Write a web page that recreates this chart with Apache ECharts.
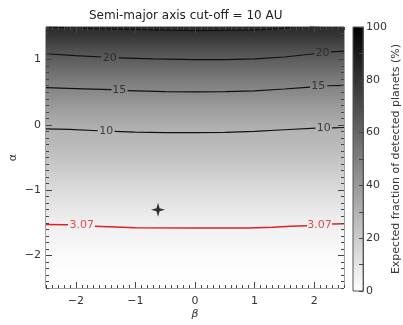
<!DOCTYPE html>
<html>
<head>
<meta charset="utf-8">
<script src="https://cdn.jsdelivr.net/npm/echarts@6/dist/echarts.min.js"></script>
<style>
html, body { margin: 0; padding: 0; background: #fff; }
#main { width: 403px; height: 325px; }
</style>
</head>
<body>
<div id="main"></div>
<script>
// expected fraction (%) read along alpha, rows centred on -2.45 ... 1.45 (step 0.1)
const alphaRows = fractionRowsAlpha();
const fractionByAlpha = [
  1.3, 1.4, 1.6, 1.8, 2.0, 2.2, 2.5, 2.7, 2.9, 3.1,
  3.5, 3.9, 4.3, 4.8, 5.3, 5.8, 6.3, 6.9, 7.4, 8.0,
  8.5, 9.0, 9.5, 9.7, 10.3, 11.0, 11.7, 12.5, 13.3, 14.2,
  15.0, 15.9, 16.9, 17.9, 19.0, 20.0, 21.2, 22.5, 23.8, 24.9
];
function fractionRowsAlpha() {
  const a = [];
  for (let i = 0; i < 40; i++) a.push(Math.round((-2.45 + 0.1 * i) * 100) / 100);
  return a;
}

// contour lines [beta, alpha], null = gap for the label
const contour10 = [[-2.5, -0.06], [-2.1, -0.07], [-1.63, -0.09], null,
  [-1.35, -0.10], [-1.0, -0.11], [-0.5, -0.12], [0, -0.12], [0.5, -0.115], [1.0, -0.10], [1.5, -0.075], [2.02, -0.05], null,
  [2.3, -0.045], [2.5, -0.04]];
const contour15 = [[-2.5, 0.57], [-2.0, 0.555], [-1.4, 0.54], null,
  [-1.13, 0.525], [-0.5, 0.51], [0, 0.505], [0.5, 0.51], [1.0, 0.52], [1.5, 0.55], [1.93, 0.58], null,
  [2.22, 0.6], [2.5, 0.605]];
const contour20 = [[-2.5, 1.09], [-2.0, 1.06], [-1.57, 1.04], null,
  [-1.28, 1.026], [-0.7, 1.01], [0, 1.0], [0.5, 1.0], [1.0, 1.01], [1.5, 1.04], [2.0, 1.09], null,
  [2.28, 1.12], [2.5, 1.13]];
const contour25 = [[-2.5, 1.497], [-2.18, 1.49], null,
  [-1.9, 1.48], [-1.0, 1.465], [0, 1.445], [1.0, 1.455], [1.4, 1.475], [1.63, 1.49], null,
  [1.93, 1.51], [2.5, 1.55]];
const contourCut = [[-2.5, -1.525], [-2.13, -1.53], null,
  [-1.68, -1.555], [-1.0, -1.575], [0, -1.58], [0.9, -1.58], [1.3, -1.57], [1.6, -1.555], [1.88, -1.545], null,
  [2.3, -1.52], [2.5, -1.515]];

const blackLabels = [[-1.49, -0.095, '10'], [2.16, -0.048, '10'],
  [-1.27, 0.53, '15'], [2.07, 0.59, '15'],
  [-1.43, 1.03, '20'], [2.14, 1.10, '20']];
const redLabels = [[-1.9, -1.54, '3.07'], [2.09, -1.53, '3.07']];

const starPoint = [[-0.62, -1.30]];

const xMajor = [-2, -1, 0, 1, 2];
const yMajor = [-2, -1, 0, 1];

const fontName = 'DejaVu Sans';
const minus = v => String(v).replace('-', '\u2212');

// grey scale of the image: white at 1.5 %, black at 30 %
const shadeMin = 1.5, shadeMax = 30;
function shade(v) {
  let t = (v - shadeMin) / (shadeMax - shadeMin);
  t = Math.max(0, Math.min(1, t));
  const g = Math.round(255 * (1 - t));
  return 'rgb(' + g + ',' + g + ',' + g + ')';
}

// split a contour into segments (one line series each)
function contourSeries(points, color, width) {
  const out = [];
  let seg = [];
  points.forEach(p => {
    if (p === null) { out.push(seg); seg = []; } else { seg.push(p); }
  });
  out.push(seg);
  return out.map(s => ({
    type: 'line', xAxisIndex: 0, yAxisIndex: 0, z: 3,
    data: s, symbol: 'none', silent: true,
    lineStyle: { color: color, width: width }
  }));
}

function valueAxis(pos, min, max, extra) {
  return Object.assign({
    type: 'value', gridIndex: 0, position: pos, min: min, max: max, z: 10,
    splitLine: { show: false },
    axisLine: { show: false, onZero: false },
    axisLabel: { show: false },
    axisTick: { show: false }
  }, extra);
}

const minorTick = { show: true, inside: true, length: 3, lineStyle: { color: '#444' } };
const labelStyle = { color: '#333', fontSize: 11, fontFamily: fontName };

const chart = echarts.init(document.getElementById('main'));
const option = {
  animation: false,
  backgroundColor: '#fff',
  title: {
    text: 'Semi-major axis cut-off = 10 AU',
    left: 84, top: 5,
    textStyle: { color: '#222', fontSize: 12, fontWeight: 'normal', fontFamily: fontName }
  },
  grid: [
    { left: 44, top: 27, width: 300, height: 264, show: true, borderColor: '#444', borderWidth: 1, backgroundColor: 'transparent' },
    { left: 353, top: 27, width: 17, height: 264, show: true, borderColor: '#555', borderWidth: 1,
      backgroundColor: new echarts.graphic.LinearGradient(0, 0, 0, 1, [
        { offset: 0, color: '#000' }, { offset: 1, color: '#fff' }
      ]) }
  ],
  xAxis: [
    valueAxis('bottom', -2.5, 2.5, { interval: 0.1, axisTick: minorTick,
      name: '\u03b2', nameLocation: 'middle', nameGap: 21,
      nameTextStyle: { color: '#333', fontSize: 11, fontStyle: 'italic', fontFamily: fontName } }),
    valueAxis('bottom', -2.5, 2.5, {
      axisTick: { show: true, inside: true, length: 6, customValues: xMajor, lineStyle: { color: '#444' } },
      axisLabel: Object.assign({ show: true, margin: 8, customValues: xMajor, formatter: minus }, labelStyle) }),
    valueAxis('top', -2.5, 2.5, { interval: 0.1, axisTick: minorTick }),
    valueAxis('top', -2.5, 2.5, {
      axisTick: { show: true, inside: true, length: 6, customValues: xMajor, lineStyle: { color: '#444' } } }),
    { type: 'value', gridIndex: 1, show: false, min: 0, max: 1 }
  ],
  yAxis: [
    valueAxis('left', -2.5, 1.5, { interval: 0.1, axisTick: minorTick,
      name: '\u03b1', nameLocation: 'middle', nameGap: 27, nameRotate: 90,
      nameTextStyle: { color: '#333', fontSize: 11, fontFamily: fontName } }),
    valueAxis('left', -2.5, 1.5, {
      axisTick: { show: true, inside: true, length: 6, customValues: yMajor, lineStyle: { color: '#444' } },
      axisLabel: Object.assign({ show: true, margin: 5, customValues: yMajor, formatter: minus }, labelStyle) }),
    valueAxis('right', -2.5, 1.5, { interval: 0.1, axisTick: minorTick }),
    valueAxis('right', -2.5, 1.5, {
      axisTick: { show: true, inside: true, length: 6, customValues: yMajor, lineStyle: { color: '#444' } } }),
    { type: 'value', gridIndex: 1, position: 'right', min: 0, max: 100, interval: 10, z: 10,
      splitLine: { show: false },
      axisLine: { show: true, onZero: false, lineStyle: { color: '#555' } },
      axisTick: { show: true, inside: true, length: 4, lineStyle: { color: '#444' } },
      axisLabel: Object.assign({ margin: 3, formatter: v => (v % 20 === 0 ? String(v) : '') }, labelStyle),
      name: 'Expected fraction of detected planets (%)', nameLocation: 'middle', nameGap: 25, nameRotate: 90,
      nameTextStyle: { color: '#333', fontSize: 11, fontFamily: fontName } }
  ],
  series: [
    // smooth grey image: one rect, shaded from the fraction read at each alpha row
    { type: 'custom', xAxisIndex: 0, yAxisIndex: 0, silent: true, z: 1,
      data: [[-2.5, -2.5]],
      renderItem: function (params, api) {
        const tl = api.coord([-2.5, 1.5]);
        const br = api.coord([2.5, -2.5]);
        const h = br[1] - tl[1];
        const stops = alphaRows.map((a, i) => ({
          offset: (api.coord([0, a])[1] - tl[1]) / h,
          color: shade(fractionByAlpha[i])
        })).reverse();
        return {
          type: 'rect',
          shape: { x: tl[0], y: tl[1], width: br[0] - tl[0], height: h },
          style: { fill: new echarts.graphic.LinearGradient(0, 0, 0, 1, stops) }
        };
      } },
    ...contourSeries(contour10, '#111', 1.2),
    ...contourSeries(contour15, '#111', 1.2),
    ...contourSeries(contour20, '#111', 1.2),
    ...contourSeries(contour25, '#111', 1.2),
    ...contourSeries(contourCut, '#e02020', 1.5),
    { type: 'scatter', xAxisIndex: 0, yAxisIndex: 0, symbolSize: 0, silent: true, z: 4,
      data: blackLabels,
      label: { show: true, position: 'inside', formatter: p => p.value[2], color: '#222', fontSize: 11, fontFamily: fontName } },
    { type: 'scatter', xAxisIndex: 0, yAxisIndex: 0, symbolSize: 0, silent: true, z: 4,
      data: redLabels,
      label: { show: true, position: 'inside', formatter: p => p.value[2], color: '#e02020', fontSize: 11, fontFamily: fontName } },
    { type: 'scatter', xAxisIndex: 0, yAxisIndex: 0, silent: true, z: 4,
      data: starPoint, symbolSize: 14,
      symbol: 'path://M0,-10 L2.2,-2.2 L10,0 L2.2,2.2 L0,10 L-2.2,2.2 L-10,0 L-2.2,-2.2 Z',
      itemStyle: { color: '#000' } }
  ]
};
chart.setOption(option);
</script>
</body>
</html>
